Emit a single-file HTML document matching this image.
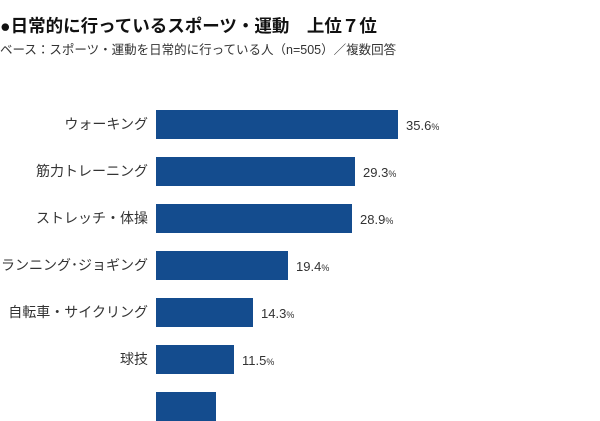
<!DOCTYPE html>
<html><head><meta charset="utf-8"><style>
body{margin:0;width:600px;height:400px;background:#fff;overflow:hidden;position:relative;font-family:"Liberation Sans","Noto Sans CJK JP",sans-serif;}
.t{position:absolute;left:0;top:13px;font-size:17.5px;font-weight:bold;color:#111;white-space:nowrap}
.s{position:absolute;left:0;top:39px;font-size:12.5px;color:#333;white-space:nowrap}
.l{position:absolute;right:452px;font-size:14px;color:#333;white-space:nowrap;text-align:right}
.b{position:absolute;left:156px;height:29px;background:#144c8e}
.v{position:absolute;font-size:13px;color:#333;white-space:nowrap}
.v small{font-size:9px}
</style></head><body>
<div class="t">●日常的に行っているスポーツ・運動　上位７位</div>
<div class="s">ベース：スポーツ・運動を日常的に行っている人（n=505）／複数回答</div>

<div class="l" style="top:114px">ウォーキング</div>
<div class="b" style="top:110px;width:242px"></div>
<div class="v" style="top:118px;left:406px">35.6<small>%</small></div>

<div class="l" style="top:161px">筋力トレーニング</div>
<div class="b" style="top:157px;width:199px"></div>
<div class="v" style="top:165px;left:363px">29.3<small>%</small></div>

<div class="l" style="top:208px">ストレッチ・体操</div>
<div class="b" style="top:204px;width:196px"></div>
<div class="v" style="top:212px;left:360px">28.9<small>%</small></div>

<div class="l" style="top:255px">ランニング･ジョギング</div>
<div class="b" style="top:251px;width:132px"></div>
<div class="v" style="top:259px;left:296px">19.4<small>%</small></div>

<div class="l" style="top:302px">自転車・サイクリング</div>
<div class="b" style="top:298px;width:97px"></div>
<div class="v" style="top:306px;left:261px">14.3<small>%</small></div>

<div class="l" style="top:349px">球技</div>
<div class="b" style="top:345px;width:78px"></div>
<div class="v" style="top:353px;left:242px">11.5<small>%</small></div>

<div class="b" style="top:392px;width:60px"></div>
</body></html>
